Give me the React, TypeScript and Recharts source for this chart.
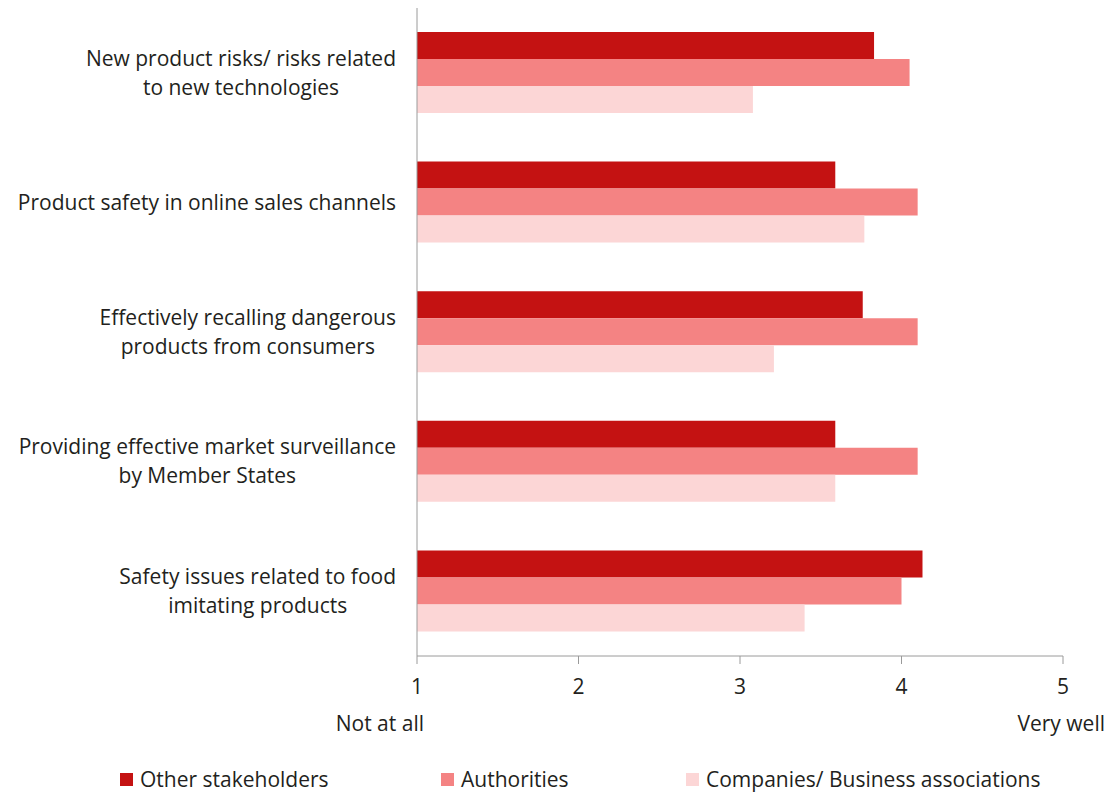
import { BarChart, Bar, XAxis, YAxis, Legend } from "recharts";

const categories = [
  "New product risks/ risks related\nto new technologies",
  "Product safety in online sales channels",
  "Effectively recalling dangerous\nproducts from consumers",
  "Providing effective market surveillance\nby Member States",
  "Safety issues related to food\nimitating products",
];
const otherStakeholders = [3.83, 3.59, 3.76, 3.59, 4.13];
const authorities = [4.05, 4.1, 4.1, 4.1, 4.0];
const companies = [3.08, 3.77, 3.21, 3.59, 3.4];
const xTicks = [1, 2, 3, 4, 5];

const seriesInfo = [
  { key: "other", name: "Other stakeholders", color: "#C41212" },
  { key: "auth", name: "Authorities", color: "#F48383" },
  { key: "comp", name: "Companies/ Business associations", color: "#FCD6D6" },
];

const data = categories.map((c, i) => ({
  cat: c,
  other: otherStakeholders[i],
  auth: authorities[i],
  comp: companies[i],
}));

const FONT = "'Open Sans', sans-serif";
const FS = 21;
const TXT = "#231f20";

function measure(text: string) {
  const cv = document.createElement("canvas");
  const ctx = cv.getContext("2d");
  if (!ctx) return text.length * 10;
  ctx.font = `${FS}px 'Open Sans'`;
  return ctx.measureText(text).width;
}

const CatTick = (props: any) => {
  const { x, y, payload } = props;
  const lines: string[] = String(payload.value).split("\n");
  const w = Math.max(...lines.map(measure));
  const right = x - 13;
  const cx = right - w / 2;
  const lh = 29;
  const start = y - ((lines.length - 1) * lh) / 2;
  return (
    <g>
      {lines.map((l, i) => (
        <text
          key={i}
          x={cx}
          y={start + i * lh}
          dy="0.35em"
          textAnchor="middle"
          fill={TXT}
          fontSize={FS}
          fontFamily={FONT}
        >
          {l}
        </text>
      ))}
    </g>
  );
};

const NumTick = (props: any) => {
  const { x, y, payload } = props;
  return (
    <g>
      <text x={x} y={y + 28} textAnchor="middle" fill={TXT} fontSize={FS} fontFamily={FONT}>
        {payload.value}
      </text>
      {payload.value === 1 && (
        <text x={x + 7} y={y + 65} textAnchor="end" fill={TXT} fontSize={FS} fontFamily={FONT}>
          Not at all
        </text>
      )}
      {payload.value === 5 && (
        <text x={x + 42} y={y + 65} textAnchor="end" fill={TXT} fontSize={FS} fontFamily={FONT}>
          Very well
        </text>
      )}
    </g>
  );
};

const legendWidths = [321, 245, 400];

const LegendContent = () => (
  <div style={{ display: "flex", paddingLeft: 120, fontFamily: FONT, fontSize: FS, color: TXT, lineHeight: "24px", width: 1110, boxSizing: "border-box" }}>
    {seriesInfo.map((s, i) => (
      <div key={s.key} style={{ width: legendWidths[i], flexShrink: 0, display: "flex", alignItems: "center", whiteSpace: "nowrap" }}>
        <span style={{ width: 13, height: 13, background: s.color, display: "inline-block", marginRight: 7 }} />
        <span>{s.name}</span>
      </div>
    ))}
  </div>
);

export default function App() {
  return (
    <div>
      <style>{"body{margin:0;background:#fff}"}</style>
      <BarChart
        width={1110}
        height={793}
        data={data}
        layout="vertical"
        margin={{ top: 8, right: 47, bottom: 0, left: 0 }}
        barCategoryGap={24}
        barGap={0}
      >
        <XAxis
          type="number"
          domain={[1, 5]}
          ticks={xTicks}
          allowDataOverflow
          stroke="#9a9a9a"
          tickSize={8}
          height={113}
          tick={<NumTick />}
        />
        <YAxis
          type="category"
          dataKey="cat"
          width={417}
          stroke="#9a9a9a"
          tickLine={false}
          tick={<CatTick />}
        />
        <Legend
          verticalAlign="bottom"
          content={<LegendContent />}
          wrapperStyle={{ bottom: 2, left: 0, width: 1110 }}
        />
        {seriesInfo.map((s) => (
          <Bar key={s.key} dataKey={s.key} name={s.name} fill={s.color} isAnimationActive={false} />
        ))}
      </BarChart>
    </div>
  );
}
